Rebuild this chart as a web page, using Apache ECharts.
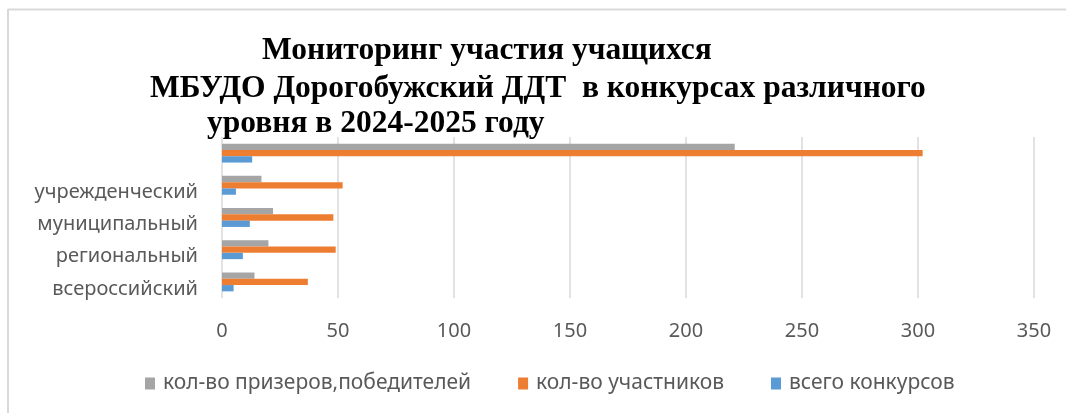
<!DOCTYPE html>
<html>
<head>
<meta charset="utf-8">
<script src="https://cdn.jsdelivr.net/npm/echarts@6/dist/echarts.min.js"></script>
<style>html,body{margin:0;padding:0;background:#fff}#c{width:1066px;height:413px}</style>
</head>
<body>
<div id="c"></div>
<script>
var categories = ['всероссийский', 'региональный', 'муниципальный', 'учрежденческий', ''];
var totalContests = [5, 9, 12, 6, 13];
var participants = [37, 49, 48, 52, 302];
var winners = [14, 20, 22, 17, 221];
var xTicks = [0, 50, 100, 150, 200, 250, 300, 350];
var titleLines = ['Мониторинг участия учащихся', 'МБУДО Дорогобужский ДДТ  в конкурсах различного', 'уровня в 2024-2025 году'];

var chart = echarts.init(document.getElementById('c'));
var titleStyle = {fontFamily: 'Liberation Serif', fontWeight: 'bold', fontSize: 31.5, color: '#000'};
chart.setOption({
  animation: false,
  title: [
    {text: titleLines[0], left: 262, top: 35, textStyle: titleStyle, padding: 0},
    {text: titleLines[1], left: 150, top: 73, textStyle: titleStyle, padding: 0},
    {text: titleLines[2], left: 207, top: 108, textStyle: titleStyle, padding: 0}
  ],
  graphic: [
    {type: 'line', shape: {x1: 8, y1: 9.5, x2: 1066, y2: 9.5}, style: {stroke: '#d9d9d9', lineWidth: 2}, z: -1},
    {type: 'line', shape: {x1: 8, y1: 9, x2: 8, y2: 413}, style: {stroke: '#d9d9d9', lineWidth: 2}, z: -1}
  ],
  grid: {left: 222, right: 32, top: 137, bottom: 115, containLabel: false},
  legend: {
    left: 140, top: 368,
    icon: 'rect', itemWidth: 10, itemHeight: 12, itemGap: 47,
    textStyle: {fontFamily: 'Noto Sans', fontSize: 21, color: '#595959', padding: [0, 0, 0, 3]}
  },
  xAxis: {
    type: 'value', min: 0, max: 350, interval: 50,
    axisLine: {show: false}, axisTick: {show: false},
    splitLine: {lineStyle: {color: '#d9d9d9', width: 1.5}},
    axisLabel: {fontFamily: 'Noto Sans', fontSize: 20, color: '#595959', margin: 23,
      formatter: function (v) { return xTicks.indexOf(v) >= 0 ? String(v) : ''; }}
  },
  yAxis: {
    type: 'category', data: categories,
    axisLine: {show: false}, axisTick: {show: false},
    axisLabel: {fontFamily: 'Noto Sans', fontSize: 20, color: '#595959', margin: 24, verticalAlign: 'top', lineHeight: 14}
  },
  series: [
    {name: 'кол-во призеров,победителей', type: 'bar', data: winners, barWidth: 6.3, barGap: '0%', itemStyle: {color: '#a5a5a5'}},
    {name: 'кол-во участников', type: 'bar', data: participants, barWidth: 6.3, barGap: '0%', itemStyle: {color: '#ed7d31'}},
    {name: 'всего конкурсов', type: 'bar', data: totalContests, barWidth: 6.3, barGap: '0%', itemStyle: {color: '#5b9bd5'}}
  ]
});
</script>
</body>
</html>
